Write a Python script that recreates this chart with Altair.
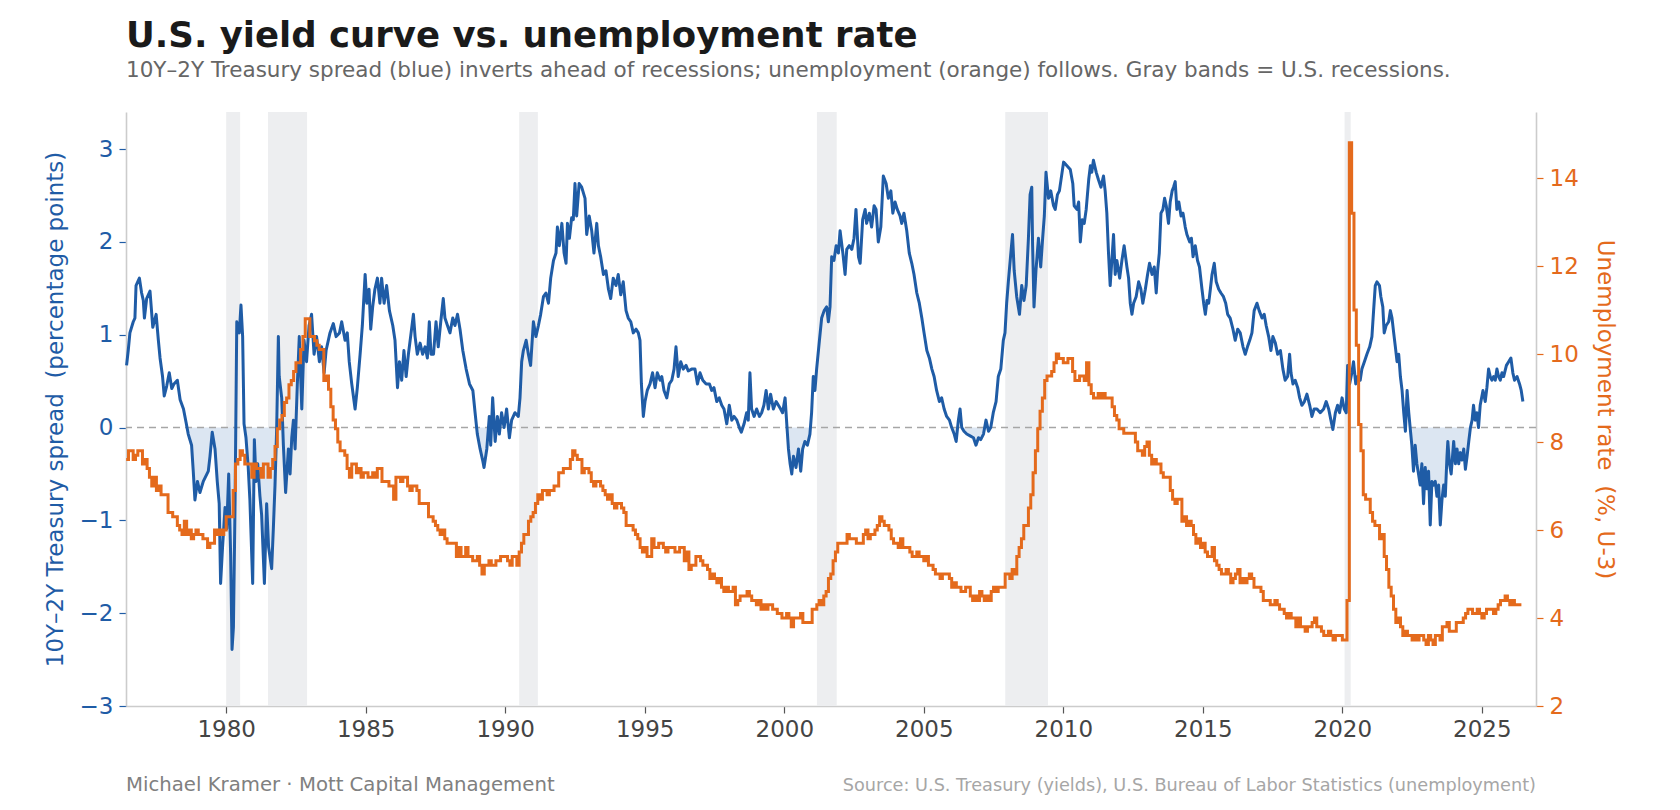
import altair as alt
import pandas as pd

# ---------------- data ----------------
TITLE = "U.S. yield curve vs. unemployment rate"
SUBTITLE = ("10Y\u20132Y Treasury spread (blue) inverts ahead of recessions; "
            "unemployment (orange) follows. Gray bands = U.S. recessions.")
FOOTER_LEFT = "Michael Kramer \u00b7 Mott Capital Management"
FOOTER_RIGHT = "Source: U.S. Treasury (yields), U.S. Bureau of Labor Statistics (unemployment)"
YL_TITLE = "10Y\u20132Y Treasury spread\u00a0 (percentage points)"
YR_TITLE = "Unemployment rate\u00a0 (%, U-3)"

X_TICKS = [1980, 1985, 1990, 1995, 2000, 2005, 2010, 2015, 2020, 2025]
YL_TICKS = [-3, -2, -1, 0, 1, 2, 3]
YR_TICKS = [2, 4, 6, 8, 10, 12, 14]

REC_START = [1980.00, 1981.50, 1990.50, 2001.17, 2007.92, 2020.08]
REC_END = [1980.50, 1982.90, 1991.17, 2001.88, 2009.45, 2020.30]

SPREAD_YEAR = [
    1976.43, 1976.49, 1976.55, 1976.67, 1976.73, 1976.77, 1976.89, 1976.97, 1977.03, 1977.07,
    1977.15, 1977.27, 1977.37, 1977.49, 1977.57, 1977.63, 1977.72, 1977.78, 1977.87, 1977.96,
    1978.05, 1978.13, 1978.25, 1978.35, 1978.47, 1978.56, 1978.64, 1978.76, 1978.82, 1978.88,
    1978.97, 1979.06, 1979.18, 1979.36, 1979.42, 1979.50, 1979.60, 1979.68, 1979.75, 1979.80,
    1979.87, 1979.96, 1980.02, 1980.09, 1980.16, 1980.21, 1980.26, 1980.32, 1980.38, 1980.47,
    1980.53, 1980.59, 1980.64, 1980.71, 1980.79, 1980.85, 1980.95, 1981.01, 1981.07, 1981.13,
    1981.21, 1981.27, 1981.37, 1981.45, 1981.52, 1981.63, 1981.69, 1981.75, 1981.81, 1981.87,
    1981.90, 1981.99, 1982.05, 1982.13, 1982.23, 1982.29, 1982.35, 1982.41, 1982.47, 1982.55,
    1982.62, 1982.71, 1982.79, 1982.88, 1982.97, 1983.06, 1983.15, 1983.24, 1983.34, 1983.42,
    1983.51, 1983.58, 1983.72, 1983.84, 1983.94, 1984.06, 1984.14, 1984.26, 1984.34, 1984.41,
    1984.50, 1984.62, 1984.70, 1984.80, 1984.88, 1984.98, 1985.04, 1985.12, 1985.18, 1985.25,
    1985.33, 1985.42, 1985.51, 1985.57, 1985.66, 1985.75, 1985.85, 1985.97, 1986.05, 1986.14,
    1986.21, 1986.29, 1986.37, 1986.45, 1986.53, 1986.61, 1986.71, 1986.77, 1986.85, 1986.95,
    1987.04, 1987.13, 1987.21, 1987.28, 1987.34, 1987.43, 1987.52, 1987.60, 1987.69, 1987.78,
    1987.84, 1987.93, 1988.02, 1988.12, 1988.20, 1988.29, 1988.38, 1988.48, 1988.60, 1988.72,
    1988.84, 1988.92, 1989.00, 1989.10, 1989.19, 1989.24, 1989.34, 1989.43, 1989.48, 1989.55,
    1989.64, 1989.72, 1989.79, 1989.87, 1989.96, 1990.05, 1990.15, 1990.23, 1990.35, 1990.47,
    1990.53, 1990.59, 1990.65, 1990.75, 1990.83, 1990.91, 1991.01, 1991.10, 1991.19, 1991.27,
    1991.37, 1991.46, 1991.55, 1991.63, 1991.73, 1991.82, 1991.87, 1991.94, 1992.03, 1992.11,
    1992.18, 1992.23, 1992.30, 1992.38, 1992.44, 1992.50, 1992.56, 1992.65,
    1992.74, 1992.86, 1992.92, 1993.01, 1993.10, 1993.18, 1993.28, 1993.34, 1993.42, 1993.52,
    1993.61, 1993.70, 1993.78, 1993.87, 1993.97, 1994.05, 1994.14, 1994.23, 1994.33, 1994.41,
    1994.50, 1994.59, 1994.69, 1994.77, 1994.83, 1994.88, 1994.95, 1995.01, 1995.09, 1995.19,
    1995.28, 1995.37, 1995.45, 1995.55, 1995.61, 1995.69, 1995.79, 1995.88, 1995.97, 1996.05,
    1996.12, 1996.20, 1996.29, 1996.38, 1996.48, 1996.56, 1996.68, 1996.80, 1996.89, 1996.98,
    1997.08, 1997.20, 1997.32, 1997.40, 1997.48, 1997.58, 1997.67, 1997.76, 1997.84, 1997.94,
    1998.03, 1998.12, 1998.20, 1998.30, 1998.39, 1998.46, 1998.56, 1998.65, 1998.71, 1998.77,
    1998.83, 1998.92, 1999.01, 1999.11, 1999.19, 1999.27, 1999.35, 1999.43, 1999.51, 1999.61,
    1999.71, 1999.79, 1999.87, 1999.94, 2000.03, 2000.09, 2000.15, 2000.21, 2000.27, 2000.33,
    2000.42, 2000.51, 2000.59, 2000.66, 2000.74, 2000.83, 2000.92, 2000.98, 2001.04, 2001.10,
    2001.16, 2001.26, 2001.34, 2001.43, 2001.52, 2001.58, 2001.64, 2001.70, 2001.78, 2001.86,
    2001.94, 2002.00, 2002.10, 2002.18, 2002.24, 2002.33, 2002.42, 2002.50, 2002.57, 2002.66,
    2002.72, 2002.81, 2002.90, 2002.95, 2003.05, 2003.13, 2003.22, 2003.29, 2003.37, 2003.46,
    2003.55, 2003.65, 2003.73, 2003.82, 2003.89, 2003.97, 2004.05, 2004.15, 2004.21, 2004.29,
    2004.39, 2004.48, 2004.57, 2004.65, 2004.75, 2004.84, 2004.93, 2005.01, 2005.11, 2005.20,
    2005.29, 2005.37, 2005.46, 2005.56, 2005.64, 2005.73, 2005.82, 2005.92, 2006.00, 2006.09,
    2006.16, 2006.24, 2006.30, 2006.36, 2006.44, 2006.54, 2006.66, 2006.78, 2006.87, 2006.96,
    2007.04, 2007.14, 2007.23, 2007.32, 2007.40, 2007.49, 2007.59, 2007.67, 2007.76, 2007.85,
    2007.91, 2007.97, 2008.03, 2008.12, 2008.18, 2008.24, 2008.33, 2008.43, 2008.51, 2008.59,
    2008.67, 2008.75, 2008.81, 2008.87, 2008.90, 2008.95, 2009.02, 2009.11, 2009.19, 2009.26,
    2009.32, 2009.38, 2009.47, 2009.55, 2009.65, 2009.71, 2009.79, 2009.86,
    2010.01, 2010.13, 2010.25, 2010.34, 2010.39, 2010.49, 2010.55, 2010.61, 2010.68, 2010.75,
    2010.82, 2010.91, 2010.97, 2011.02, 2011.08, 2011.18, 2011.26, 2011.35, 2011.44, 2011.50,
    2011.56, 2011.62, 2011.68, 2011.74, 2011.80, 2011.86, 2011.92, 2012.02, 2012.10, 2012.18,
    2012.28, 2012.34, 2012.40, 2012.46, 2012.52, 2012.61, 2012.70, 2012.78, 2012.85, 2012.94,
    2013.02, 2013.09, 2013.18, 2013.26, 2013.33, 2013.38, 2013.44, 2013.50, 2013.57, 2013.63,
    2013.69, 2013.77, 2013.83, 2013.90, 2013.95, 2014.01, 2014.07, 2014.14, 2014.22, 2014.29,
    2014.37, 2014.43, 2014.53, 2014.59, 2014.65, 2014.73, 2014.81, 2014.88, 2014.97, 2015.03,
    2015.09, 2015.15, 2015.21, 2015.27, 2015.33, 2015.41, 2015.48, 2015.57, 2015.65, 2015.74,
    2015.82, 2015.89, 2015.98, 2016.08, 2016.16, 2016.25, 2016.34, 2016.44, 2016.52, 2016.60,
    2016.68, 2016.76, 2016.84, 2016.94, 2017.02, 2017.12, 2017.20, 2017.27, 2017.36, 2017.44,
    2017.51, 2017.60, 2017.68, 2017.78, 2017.87, 2017.95, 2018.04, 2018.11, 2018.16, 2018.23,
    2018.31, 2018.40, 2018.47, 2018.55, 2018.64, 2018.73, 2018.83, 2018.91, 2018.99, 2019.09,
    2019.21, 2019.33, 2019.42, 2019.51, 2019.59, 2019.66, 2019.75, 2019.83, 2019.90, 2019.99,
    2020.07, 2020.14, 2020.19, 2020.26, 2020.34, 2020.40, 2020.48, 2020.55, 2020.64, 2020.70,
    2020.79, 2020.88, 2020.98, 2021.06, 2021.12, 2021.18, 2021.24, 2021.33, 2021.38, 2021.45,
    2021.50, 2021.57, 2021.66, 2021.72, 2021.78, 2021.84, 2021.90, 2021.96, 2022.02, 2022.08,
    2022.14, 2022.20, 2022.26, 2022.32, 2022.38, 2022.43, 2022.49, 2022.55, 2022.61, 2022.67,
    2022.73, 2022.79, 2022.85, 2022.91, 2022.97, 2023.03, 2023.09, 2023.15, 2023.21, 2023.27,
    2023.33, 2023.39, 2023.45, 2023.51, 2023.57, 2023.63, 2023.69, 2023.75, 2023.78, 2023.84,
    2023.90, 2023.99, 2024.05, 2024.11, 2024.17, 2024.23, 2024.29, 2024.35, 2024.41, 2024.47,
    2024.53, 2024.59, 2024.65, 2024.70, 2024.76, 2024.82, 2024.88, 2024.94, 2025.04, 2025.12,
    2025.18, 2025.24, 2025.30, 2025.36, 2025.42, 2025.48, 2025.54, 2025.60, 2025.66, 2025.72,
    2025.78, 2025.88, 2025.96, 2026.04, 2026.11, 2026.17, 2026.26, 2026.35, 2026.41, 2026.47,
]

SPREAD_VALUE = [
    0.67, 0.83, 1.02, 1.14, 1.18, 1.53, 1.61, 1.45, 1.37, 1.18,
    1.39, 1.47, 1.08, 1.22, 0.94, 0.75, 0.55, 0.34, 0.45, 0.59,
    0.42, 0.47, 0.51, 0.30, 0.20, 0.06, -0.07, -0.19, -0.47, -0.78,
    -0.58, -0.70, -0.58, -0.47, -0.31, -0.05, -0.23, -0.58, -0.82, -1.68,
    -1.29, -0.86, -1.09, -0.50, -1.37, -2.39, -2.15, -0.78, 1.14, 1.02,
    1.32, 0.98, 0.04, -0.11, -0.43, -0.78, -1.68, -0.13, -0.58, -0.39,
    -0.74, -0.94, -1.68, -0.82, -1.29, -1.52, -1.09, -0.62, 0.00, 0.98,
    0.55, 0.32, -0.19, -0.70, -0.23, -0.50, -0.11, 0.08, -0.23, 0.47,
    0.98, 0.20, 0.94, 0.71, 1.10, 1.22, 0.79, 0.98, 0.71, 0.87,
    0.59, 0.83, 1.02, 1.12, 0.98, 1.02, 1.14, 0.94, 1.02, 0.71,
    0.47, 0.20, 0.43, 0.79, 1.10, 1.65, 1.34, 1.49, 1.06, 1.30,
    1.49, 1.61, 1.34, 1.61, 1.34, 1.53, 1.26, 1.10, 0.94, 0.43,
    0.71, 0.51, 0.83, 0.55, 0.79, 0.98, 1.22, 0.98, 0.79, 0.91,
    0.79, 0.87, 0.75, 1.14, 0.79, 0.79, 1.14, 0.87, 1.14, 1.39,
    1.18, 1.10, 1.02, 1.18, 1.10, 1.22, 1.06, 0.83, 0.63, 0.47,
    0.40, 0.16, -0.07, -0.23, -0.35, -0.43, -0.23, 0.12, -0.19, 0.32,
    -0.15, 0.12, -0.07, 0.16, 0.00, 0.20, -0.11, 0.08, 0.16, 0.12,
    0.32, 0.71, 0.83, 0.94, 0.79, 0.67, 1.14, 0.98, 1.10, 1.22,
    1.41, 1.45, 1.34, 1.61, 1.80, 1.88, 2.16, 1.96, 2.20, 1.88,
    1.77, 2.20, 2.04, 2.26, 2.24, 2.63, 2.28, 2.63,
    2.59, 2.47, 2.08, 2.28, 2.12, 1.88, 2.20, 1.96, 1.84, 1.65,
    1.69, 1.49, 1.39, 1.61, 1.53, 1.65, 1.43, 1.57, 1.26, 1.18,
    1.14, 1.02, 1.06, 1.02, 0.94, 0.47, 0.12, 0.28, 0.40, 0.47,
    0.59, 0.43, 0.59, 0.51, 0.55, 0.40, 0.32, 0.47, 0.51, 0.63,
    0.87, 0.55, 0.71, 0.63, 0.67, 0.61, 0.63, 0.63, 0.47, 0.59,
    0.51, 0.47, 0.47, 0.40, 0.43, 0.28, 0.32, 0.24, 0.20, 0.04,
    0.24, 0.08, 0.12, 0.08, 0.00, -0.05, 0.04, 0.16, 0.08, 0.59,
    0.20, 0.12, 0.20, 0.12, 0.16, 0.24, 0.40, 0.20, 0.36, 0.20,
    0.28, 0.24, 0.20, 0.16, 0.32, 0.04, -0.23, -0.39, -0.50, -0.31,
    -0.43, -0.23, -0.47, -0.23, -0.15, -0.19, -0.07, 0.16, 0.55, 0.40,
    0.63, 0.94, 1.18, 1.26, 1.30, 1.14, 1.30, 1.84, 1.80, 1.96,
    1.88, 2.12, 1.88, 1.65, 1.92, 1.96, 1.92, 2.04, 2.35, 1.84,
    1.77, 2.24, 2.35, 2.20, 2.31, 2.16, 2.39, 2.35, 2.00, 2.16,
    2.71, 2.63, 2.47, 2.55, 2.31, 2.43, 2.35, 2.28, 2.20, 2.31,
    2.12, 1.88, 1.77, 1.65, 1.45, 1.34, 1.18, 1.02, 0.83, 0.75,
    0.63, 0.55, 0.40, 0.28, 0.32, 0.20, 0.12, 0.08, 0.00, -0.07,
    -0.15, 0.08, 0.20, 0.00, -0.04, -0.07, -0.09, -0.11, -0.19, -0.11,
    -0.13, -0.07, 0.08, -0.04, 0.00, 0.16, 0.28, 0.55, 0.63, 0.94,
    1.02, 1.34, 1.57, 1.88, 2.08, 1.69, 1.41, 1.22, 1.53, 1.37,
    1.53, 2.04, 2.51, 2.59, 1.96, 1.30, 1.69, 2.04, 1.73, 2.04,
    2.28, 2.75, 2.47, 2.55, 2.39, 2.35, 2.51, 2.55,
    2.86, 2.82, 2.78, 2.63, 2.39, 2.35, 2.43, 2.00, 2.24, 2.20,
    2.35, 2.67, 2.82, 2.75, 2.88, 2.75, 2.67, 2.59, 2.71, 2.55,
    2.31, 1.88, 1.53, 1.80, 2.08, 1.65, 1.80, 1.61, 1.80, 1.96,
    1.73, 1.61, 1.34, 1.22, 1.34, 1.41, 1.57, 1.49, 1.34, 1.49,
    1.65, 1.77, 1.65, 1.73, 1.45, 1.69, 1.88, 2.31, 2.35, 2.47,
    2.39, 2.20, 2.43, 2.55, 2.59, 2.65, 2.35, 2.43, 2.28, 2.31,
    2.16, 2.08, 2.00, 2.04, 1.84, 1.96, 1.80, 1.73, 1.49, 1.34,
    1.22, 1.37, 1.34, 1.49, 1.65, 1.77, 1.57, 1.49, 1.45, 1.41,
    1.34, 1.22, 1.18, 1.06, 0.94, 1.06, 1.02, 0.87, 0.79, 0.87,
    0.94, 1.02, 1.26, 1.34, 1.26, 1.18, 1.22, 1.10, 0.98, 0.83,
    0.98, 0.91, 0.79, 0.83, 0.63, 0.51, 0.55, 0.79, 0.59, 0.47,
    0.51, 0.43, 0.32, 0.24, 0.28, 0.36, 0.24, 0.12, 0.20, 0.20,
    0.16, 0.20, 0.28, 0.20, 0.08, -0.02, 0.16, 0.24, 0.16, 0.32,
    0.20, 0.16, 0.67, 0.47, 0.59, 0.71, 0.47, 0.55, 0.51, 0.63,
    0.71, 0.79, 0.87, 0.98, 1.26, 1.53, 1.57, 1.53, 1.41, 1.30,
    1.02, 1.10, 1.14, 1.26, 1.18, 1.02, 0.87, 0.71, 0.79, 0.55,
    0.40, 0.16, -0.04, 0.40, 0.16, 0.00, -0.19, -0.47, -0.19, -0.39,
    -0.50, -0.62, -0.39, -0.82, -0.43, -0.66, -0.47, -1.05, -0.58, -0.62,
    -0.58, -0.74, -0.62, -1.05, -0.78, -0.62, -0.74, -0.31, -0.15, -0.39,
    -0.50, -0.15, -0.39, -0.23, -0.39, -0.27, -0.35, -0.23, -0.45, -0.31,
    -0.15, 0.00, 0.08, 0.24, 0.08, 0.16, 0.00, 0.24, 0.40, 0.28,
    0.43, 0.63, 0.55, 0.51, 0.55, 0.51, 0.63, 0.55, 0.51, 0.59,
    0.55, 0.67, 0.71, 0.75, 0.59, 0.51, 0.55, 0.47, 0.40, 0.28,
]

# Monthly U-3 unemployment rate, starting June 1976
UNRATE_START_YEAR = 1976
UNRATE_START_MONTH = 6
UNRATE = [
    7.6, 7.8, 7.8, 7.6, 7.7, 7.8, 7.8,
    7.5, 7.6, 7.4, 7.2, 7.0, 7.2, 6.9, 7.0, 6.8, 6.8, 6.8, 6.4,
    6.4, 6.3, 6.3, 6.1, 6.0, 5.9, 6.2, 5.9, 6.0, 5.8, 5.9, 6.0,
    5.9, 5.9, 5.8, 5.8, 5.6, 5.7, 5.7, 6.0, 5.9, 6.0, 5.9, 6.0,
    6.3, 6.3, 6.3, 6.9, 7.5, 7.6, 7.8, 7.7, 7.5, 7.5, 7.5, 7.2,
    7.5, 7.4, 7.4, 7.2, 7.5, 7.5, 7.2, 7.4, 7.6, 7.9, 8.3, 8.5,
    8.6, 8.9, 9.0, 9.3, 9.4, 9.6, 9.8, 9.8, 10.1, 10.4, 10.8, 10.8,
    10.4, 10.4, 10.3, 10.2, 10.1, 10.1, 9.4, 9.5, 9.2, 8.8, 8.5, 8.3,
    8.0, 7.8, 7.8, 7.7, 7.4, 7.2, 7.5, 7.5, 7.3, 7.4, 7.2, 7.3,
    7.3, 7.2, 7.2, 7.3, 7.2, 7.4, 7.4, 7.1, 7.1, 7.1, 7.0, 7.0,
    6.7, 7.2, 7.2, 7.1, 7.2, 7.2, 7.0, 6.9, 7.0, 7.0, 6.9, 6.6,
    6.6, 6.6, 6.6, 6.3, 6.3, 6.2, 6.1, 6.0, 5.9, 6.0, 5.8, 5.7,
    5.7, 5.7, 5.7, 5.4, 5.6, 5.4, 5.4, 5.6, 5.4, 5.4, 5.3, 5.3,
    5.4, 5.2, 5.0, 5.2, 5.2, 5.3, 5.2, 5.2, 5.3, 5.3, 5.4, 5.4,
    5.4, 5.3, 5.2, 5.4, 5.4, 5.2, 5.5, 5.7, 5.9, 5.9, 6.2, 6.3,
    6.4, 6.6, 6.8, 6.7, 6.9, 6.9, 6.8, 6.9, 6.9, 7.0, 7.0, 7.3,
    7.3, 7.4, 7.4, 7.4, 7.6, 7.8, 7.7, 7.6, 7.6, 7.3, 7.4, 7.4,
    7.3, 7.1, 7.0, 7.1, 7.1, 7.0, 6.9, 6.8, 6.7, 6.8, 6.6, 6.5,
    6.6, 6.6, 6.5, 6.4, 6.1, 6.1, 6.1, 6.0, 5.9, 5.8, 5.6, 5.5,
    5.6, 5.4, 5.4, 5.8, 5.6, 5.6, 5.7, 5.7, 5.6, 5.5, 5.6, 5.6,
    5.6, 5.5, 5.5, 5.6, 5.6, 5.3, 5.5, 5.1, 5.2, 5.2, 5.4, 5.4,
    5.3, 5.2, 5.2, 5.1, 4.9, 5.0, 4.9, 4.8, 4.9, 4.7, 4.6, 4.7,
    4.6, 4.6, 4.7, 4.3, 4.4, 4.5, 4.5, 4.5, 4.6, 4.5, 4.4, 4.4,
    4.3, 4.4, 4.2, 4.3, 4.2, 4.3, 4.3, 4.2, 4.2, 4.1, 4.1, 4.0,
    4.0, 4.1, 4.0, 3.8, 4.0, 4.0, 4.0, 4.1, 3.9, 3.9, 3.9, 3.9,
    4.2, 4.2, 4.3, 4.4, 4.3, 4.5, 4.6, 4.9, 5.0, 5.3, 5.5, 5.7,
    5.7, 5.7, 5.7, 5.9, 5.8, 5.8, 5.8, 5.7, 5.7, 5.7, 5.9, 6.0,
    5.8, 5.9, 5.9, 6.0, 6.1, 6.3, 6.2, 6.1, 6.1, 6.0, 5.8, 5.7,
    5.7, 5.6, 5.8, 5.6, 5.6, 5.6, 5.5, 5.4, 5.4, 5.5, 5.4, 5.4,
    5.3, 5.4, 5.2, 5.2, 5.1, 5.0, 5.0, 4.9, 5.0, 5.0, 5.0, 4.9,
    4.7, 4.8, 4.7, 4.7, 4.6, 4.6, 4.7, 4.7, 4.5, 4.4, 4.5, 4.4,
    4.6, 4.5, 4.4, 4.5, 4.4, 4.6, 4.7, 4.6, 4.7, 4.7, 4.7, 5.0,
    5.0, 4.9, 5.1, 5.0, 5.4, 5.6, 5.8, 6.1, 6.1, 6.5, 6.8, 7.3,
    7.8, 8.3, 8.7, 9.0, 9.4, 9.5, 9.5, 9.6, 9.8, 10.0, 9.9, 9.9,
    9.8, 9.8, 9.9, 9.9, 9.6, 9.4, 9.4, 9.5, 9.5, 9.4, 9.8, 9.3,
    9.1, 9.0, 9.0, 9.1, 9.0, 9.1, 9.0, 9.0, 9.0, 8.8, 8.6, 8.5,
    8.3, 8.3, 8.2, 8.2, 8.2, 8.2, 8.2, 8.0, 7.8, 7.8, 7.7, 7.9,
    8.0, 7.7, 7.5, 7.6, 7.5, 7.5, 7.3, 7.2, 7.2, 7.2, 6.9, 6.7,
    6.6, 6.7, 6.7, 6.2, 6.3, 6.1, 6.2, 6.1, 5.9, 5.7, 5.8, 5.6,
    5.7, 5.5, 5.4, 5.4, 5.6, 5.3, 5.2, 5.1, 5.0, 5.0, 5.1, 5.0,
    4.8, 4.9, 5.0, 5.1, 4.8, 4.9, 4.8, 4.9, 5.0, 4.9, 4.7, 4.7,
    4.7, 4.6, 4.4, 4.4, 4.4, 4.3, 4.3, 4.4, 4.3, 4.2, 4.2, 4.1,
    4.0, 4.1, 4.0, 4.0, 3.8, 4.0, 3.8, 3.8, 3.7, 3.8, 3.8, 3.9,
    4.0, 3.8, 3.8, 3.7, 3.6, 3.6, 3.7, 3.6, 3.5, 3.6, 3.6, 3.6,
    3.5, 3.5, 4.4, 14.8, 13.2, 11.0, 10.2, 8.4, 7.8, 6.8, 6.7, 6.7,
    6.4, 6.2, 6.1, 6.1, 5.8, 5.9, 5.4, 5.1, 4.7, 4.5, 4.2, 3.9,
    4.0, 3.8, 3.6, 3.7, 3.6, 3.6, 3.5, 3.6, 3.5, 3.6, 3.6, 3.5,
    3.4, 3.6, 3.5, 3.4, 3.6, 3.6, 3.5, 3.8, 3.8, 3.9, 3.7, 3.7,
    3.7, 3.9, 3.9, 3.9, 4.0, 4.1, 4.2, 4.2, 4.1, 4.1, 4.2, 4.1,
    4.0, 4.1, 4.2, 4.2, 4.2, 4.1, 4.2, 4.3, 4.4, 4.4, 4.5, 4.4,
    4.3, 4.4, 4.3, 4.3, 4.3, 4.3,
]

# ---------------- styling ----------------
BLUE = "#1f5ca6"
ORANGE = "#e46a1c"
FILL = "#dce6f2"
BAND = "#edeef0"
FONT = "DejaVu Sans"
W, H = 1410, 594
TICK_FS = 23
AXT_FS = 23

spread_df = pd.DataFrame({"x": SPREAD_YEAR, "s": SPREAD_VALUE})
unrate_df = pd.DataFrame({
    "x": [UNRATE_START_YEAR + (UNRATE_START_MONTH - 1 + i) / 12 for i in range(len(UNRATE))],
    "u": UNRATE,
})
rec_df = pd.DataFrame({"x": REC_START, "x2": REC_END})
zero_df = pd.DataFrame({"z": [0]})
foot_l_df = pd.DataFrame({"t": [FOOTER_LEFT]})
foot_r_df = pd.DataFrame({"t": [FOOTER_RIGHT]})

X_SCALE = alt.Scale(domain=[1976.41, 2026.94], nice=False, zero=False)
YL_SCALE = alt.Scale(domain=[-3, 3.4], nice=False, zero=False)
YR_SCALE = alt.Scale(domain=[2, 15.5], nice=False, zero=False)

X_AXIS = alt.Axis(values=X_TICKS, format="d", title=None, grid=False,
                  labelFontSize=TICK_FS, labelColor="#444444", labelFont=FONT,
                  tickColor="#555555", tickSize=7, tickWidth=1.2,
                  domainColor="#cccccc", domainWidth=1.6, labelPadding=5,
                  labelOverlap=False, labelFlush=False)
YL_AXIS = alt.Axis(values=YL_TICKS, format="d", grid=False,
                   title=YL_TITLE,
                   titleColor=BLUE, titleFontSize=AXT_FS, titleFontWeight="normal",
                   titleFont=FONT, titlePadding=12,
                   labelFontSize=TICK_FS, labelColor=BLUE, labelFont=FONT,
                   tickColor=BLUE, tickSize=7, tickWidth=1.2,
                   domainColor="#cccccc", domainWidth=1.6, labelPadding=6,
                   labelOverlap=False)
YR_AXIS = alt.Axis(values=YR_TICKS, format="d", grid=False, orient="right",
                   title=YR_TITLE,
                   titleColor=ORANGE, titleFontSize=AXT_FS, titleFontWeight="normal",
                   titleFont=FONT, titlePadding=14,
                   labelFontSize=TICK_FS, labelColor=ORANGE, labelFont=FONT,
                   tickColor=ORANGE, tickSize=7, tickWidth=1.2,
                   domainColor="#cccccc", domainWidth=1.6, labelPadding=6,
                   labelOverlap=False)

x_enc = alt.X("x:Q", scale=X_SCALE, axis=X_AXIS)

bands = alt.Chart(rec_df).mark_rect(color=BAND).encode(
    x=x_enc, x2="x2:Q", y=alt.value(0), y2=alt.value(H))

neg_area = alt.Chart(spread_df).transform_calculate(
    neg="min(datum.s, 0)", zero="0"
).mark_area(color=FILL, opacity=1).encode(
    x=x_enc,
    y=alt.Y("neg:Q", scale=YL_SCALE, axis=YL_AXIS),
    y2="zero:Q",
)

zero_rule = alt.Chart(zero_df).mark_rule(
    color="#a6a6a6", strokeDash=[7, 5], strokeWidth=1.5
).encode(y=alt.Y("z:Q", scale=YL_SCALE, axis=YL_AXIS))

blue_line = alt.Chart(spread_df).mark_line(
    color=BLUE, strokeWidth=3, strokeJoin="round"
).encode(x=x_enc, y=alt.Y("s:Q", scale=YL_SCALE, axis=YL_AXIS))

foot_l = alt.Chart(foot_l_df).mark_text(
    align="left", baseline="alphabetic", fontSize=19.7, color="#808080", font=FONT
).encode(x=alt.value(0), y=alt.value(H + 85), text="t:N")

foot_r = alt.Chart(foot_r_df).mark_text(
    align="right", baseline="alphabetic", fontSize=17.7, color="#a6a6a6", font=FONT
).encode(x=alt.value(W), y=alt.value(H + 85), text="t:N")

left = alt.layer(bands, neg_area, zero_rule, blue_line, foot_l, foot_r)

orange_line = alt.Chart(unrate_df).mark_line(
    color=ORANGE, strokeWidth=3, interpolate="step-after"
).encode(x=x_enc, y=alt.Y("u:Q", scale=YR_SCALE, axis=YR_AXIS))

chart = alt.layer(left, orange_line).resolve_scale(y="independent").properties(
    width=W, height=H,
    autosize=alt.AutoSizeParams(type="none"),
    padding={"left": 118, "top": 104, "right": 130, "bottom": 92},
    title=alt.TitleParams(
        text=TITLE, subtitle=SUBTITLE, anchor="start", frame="group",
        font=FONT, fontSize=35.5, fontWeight="bold", color="#1a1a1a",
        subtitleFont=FONT, subtitleFontSize=21.5, subtitleColor="#666666",
        offset=31, subtitlePadding=5,
    ),
).configure(font=FONT).configure_view(stroke=None)

chart.save("out.html", embed_options={"renderer": "svg", "actions": False})
